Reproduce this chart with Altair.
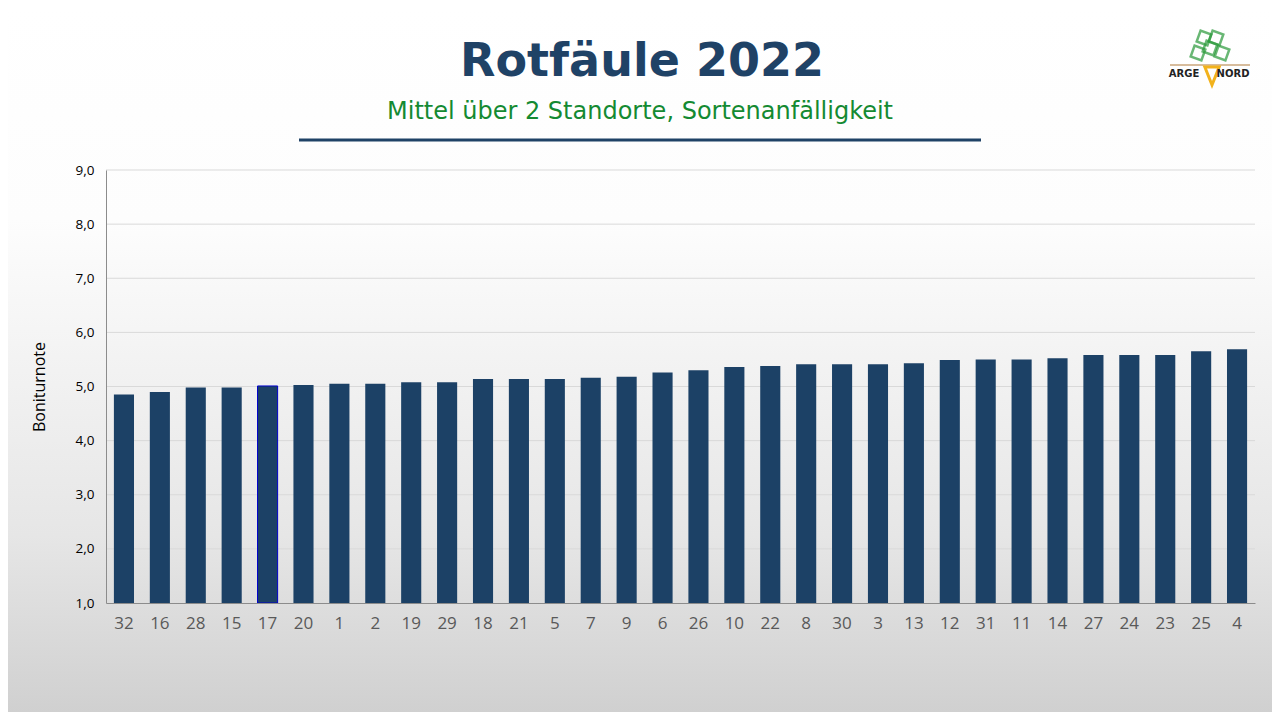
import altair as alt
import pandas as pd

sorten = ["32", "16", "28", "15", "17", "20", "1", "2", "19", "29", "18", "21", "5", "7", "9", "6",
          "26", "10", "22", "8", "30", "3", "13", "12", "31", "11", "14", "27", "24", "23", "25", "4"]
werte = [4.85, 4.90, 4.98, 4.98, 5.01, 5.03, 5.05, 5.05, 5.08, 5.08, 5.14, 5.14, 5.14, 5.16, 5.18, 5.26,
         5.30, 5.36, 5.38, 5.41, 5.41, 5.41, 5.43, 5.49, 5.50, 5.50, 5.52, 5.58, 5.58, 5.58, 5.65, 5.69]
hervorgehoben = ["17"]
grid_werte = [2, 3, 4, 5, 6, 7, 8, 9]

titel = "Rotfäule 2022"
untertitel = "Mittel über 2 Standorte, Sortenanfälligkeit"
y_titel = "Boniturnote"

df = pd.DataFrame({"sorte": sorten, "wert": werte})
df["mark"] = df["sorte"].isin(hervorgehoben)

W, H = 1149, 433
PL, PT = 98, 162
one = alt.Data(values=[{}])

ysc = alt.Scale(domain=[1, 9], nice=False, zero=False)

bg = alt.Chart(one).mark_rect(
    fill=alt.Gradient(gradient="linear", x1=0, y1=0, x2=0, y2=1,
                      stops=[alt.GradientStop(offset=0, color="#ffffff"),
                             alt.GradientStop(offset=0.3, color="#fdfdfd"),
                             alt.GradientStop(offset=0.75, color="#e6e6e6"),
                             alt.GradientStop(offset=1, color="#d0d0d0")])
).encode(x=alt.value(-PL), x2=alt.value(1264 - PL), y=alt.value(-PT), y2=alt.value(704 - PT))

grid = alt.Chart(pd.DataFrame({"g": grid_werte})).mark_rule(color="#d9d9d9", strokeWidth=1).encode(
    y=alt.Y("g:Q", scale=ysc), x=alt.value(0), x2=alt.value(W))

bars = alt.Chart(df).mark_bar(color="#1c4166").encode(
    x=alt.X("sorte:N", sort=None,
            scale=alt.Scale(paddingInner=0.44, paddingOuter=0.22),
            axis=alt.Axis(title=None, labelAngle=0, labelFontSize=17, labelColor="#595959",
                          labelFont="Open Sans", labelPadding=12, ticks=False,
                          domainColor="#8c8c8c", zindex=1)),
    y=alt.Y("wert:Q", scale=ysc,
            axis=alt.Axis(title=y_titel, titleFontSize=16, titleFont="Open Sans",
                          titleFontWeight="normal", titleColor="#000000", titlePadding=28,
                          values=[1, 2, 3, 4, 5, 6, 7, 8, 9],
                          labelExpr="replace(format(datum.value, '.1f'), '.', ',')",
                          labelFontSize=13.5, labelFont="Open Sans", labelColor="#000000",
                          labelPadding=12, ticks=False, grid=False,
                          domainColor="#8c8c8c", zindex=1)),
    y2=alt.datum(1),
    stroke=alt.condition("datum.mark", alt.value("#0000cc"), alt.value(None)),
    strokeWidth=alt.value(1),
)

t1 = alt.Chart(one).mark_text(font="DejaVu Sans", fontSize=46, fontWeight="bold",
                              color="#1f4266", align="center", baseline="alphabetic").encode(
    x=alt.value(536), y=alt.value(-94), text=alt.value(titel))
t2 = alt.Chart(one).mark_text(font="DejaVu Sans", fontSize=24, color="#148a32",
                              align="center", baseline="alphabetic").encode(
    x=alt.value(534), y=alt.value(-51), text=alt.value(untertitel))
line = alt.Chart(one).mark_rule(color="#1f4266", strokeWidth=3).encode(
    x=alt.value(193), x2=alt.value(875), y=alt.value(-30))

# logo
logo_line = alt.Chart(one).mark_rule(color="#b07a3a", strokeWidth=1).encode(
    x=alt.value(1064), x2=alt.value(1144), y=alt.value(-105))
carrot = alt.Chart(one).mark_point(shape="M -0.8 -1 L 0 1 L 0.8 -1 Z", filled=False,
                                   color="#f2b21c", strokeWidth=3, size=320, opacity=1).encode(
    x=alt.value(1106), y=alt.value(-94))
leaves = alt.Chart(pd.DataFrame({"lx": [1092, 1104, 1116, 1098, 1110],
                                 "ly": [-117, -122, -117, -132, -132]})).mark_point(
    shape="square", filled=False, color="#2a9a3a", strokeWidth=2.5, size=130, angle=20).encode(
    x=alt.X("lx:Q", scale=None, axis=None), y=alt.Y("ly:Q", scale=None, axis=None))
arge = alt.Chart(one).mark_text(font="DejaVu Sans", fontSize=10, fontWeight="bold",
                                color="#222222", align="center", baseline="alphabetic").encode(
    x=alt.value(1078), y=alt.value(-93), text=alt.value("ARGE"))
nord = alt.Chart(one).mark_text(font="DejaVu Sans", fontSize=10, fontWeight="bold",
                                color="#222222", align="center", baseline="alphabetic").encode(
    x=alt.value(1127), y=alt.value(-93), text=alt.value("NORD"))

chart = alt.layer(bg, grid, bars, t1, t2, line, logo_line, leaves, carrot, arge, nord).resolve_scale(
    y="shared"
).properties(
    width=W, height=H, autosize=alt.AutoSizeParams(type="none"),
    padding={"left": PL, "top": PT, "right": 1264 - PL - W, "bottom": 704 - PT - H},
).configure_view(stroke=None)

chart.save("out.html", embed_options={"renderer": "svg", "actions": False})
